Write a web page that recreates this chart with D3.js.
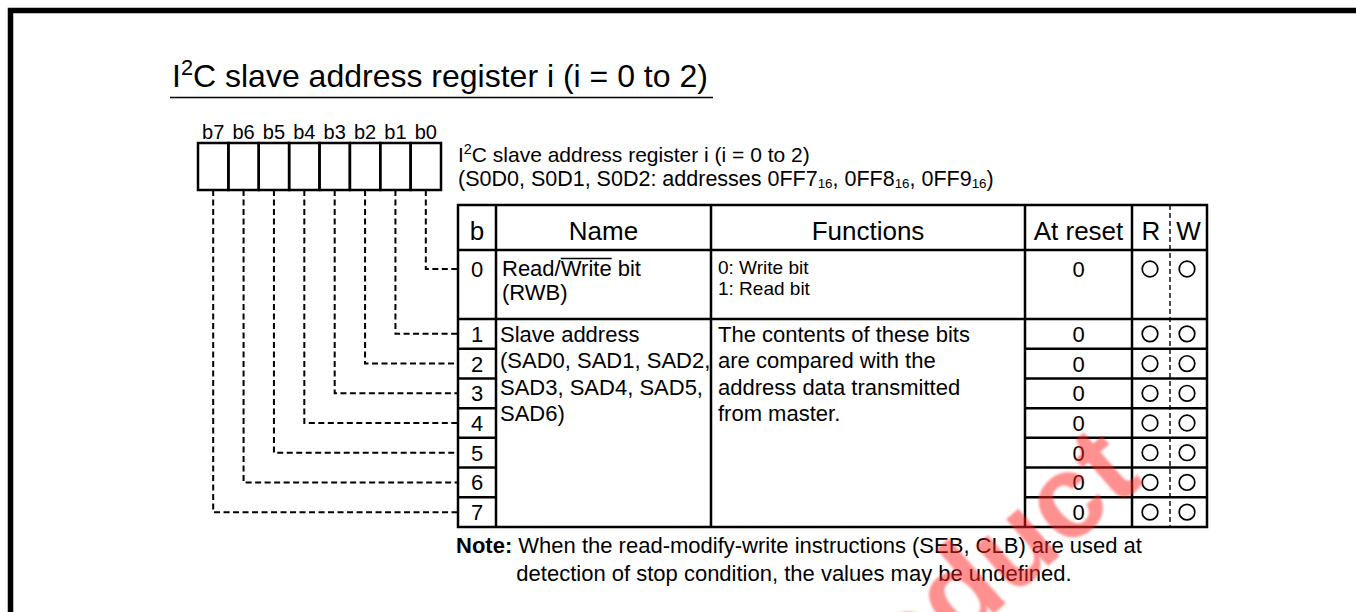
<!DOCTYPE html>
<html><head><meta charset="utf-8">
<script src="https://cdn.jsdelivr.net/npm/d3@7"></script>
<style>
html,body{margin:0;padding:0;background:#fff;}
svg{display:block;}
text{font-family:"Liberation Sans",Arial,Helvetica,sans-serif;fill:#000;}
</style>
</head><body>
<svg id="c" width="1356" height="612"></svg>
<script>
// ---------- data ----------
const titleSegs = [["I",""],["2","sup"],["C slave address register i (i = 0 to 2)",""]];
const bitLabels = ["b7","b6","b5","b4","b3","b2","b1","b0"];
const regTitleSegs = [["I",""],["2","sup"],["C slave address register i (i = 0 to 2)",""]];
const regAddrSegs = [["(S0D0, S0D1, S0D2: addresses 0FF7",""],["16","sub"],[", 0FF8",""],["16","sub"],[", 0FF9",""],["16","sub"],[")",""]];
const headers = ["b","Name","Functions","At reset","R","W"];
const bitNumbers = [0,1,2,3,4,5,6,7];
const atReset = ["0","0","0","0","0","0","0","0"];
const readable = [true,true,true,true,true,true,true,true];
const writable = [true,true,true,true,true,true,true,true];
const name0Lines = ["Read/Write bit","(RWB)"];
const func0Lines = ["0: Write bit","1: Read bit"];
const name1Lines = ["Slave address","(SAD0, SAD1, SAD2,","SAD3, SAD4, SAD5,","SAD6)"];
const func1Lines = ["The contents of these bits","are compared with the","address data transmitted","from master."];
const noteLabel = "Note:";
const noteLines = ["When the read-modify-write instructions (SEB, CLB) are used at","detection of stop condition, the values may be undefined."];
const watermark = "Product";

// ---------- layout ----------
const svg = d3.select("#c");
const FONT = 22;

svg.append("defs").append("filter").attr("id","soft")
  .append("feGaussianBlur").attr("stdDeviation",1.2);

function segText(sel, segs, size){
  segs.forEach((s,i)=>{
    const prev = i>0 ? segs[i-1][1] : "";
    const ts = sel.append("tspan").text(s[0]);
    let dy = 0;
    if (prev==="sup") dy += size*0.36;
    if (prev==="sub") dy -= size*0.1;
    if (s[1]==="sup"){ dy -= size*0.36; ts.attr("font-size", size*0.68); }
    if (s[1]==="sub"){ dy += size*0.1; ts.attr("font-size", size*0.62); }
    if (dy) ts.attr("dy", dy);
  });
}

// frame
svg.append("path").attr("d","M10.5,612 V10.5 H1356").attr("fill","none")
  .attr("stroke","#000").attr("stroke-width",5.5);

// title
const tt = svg.append("text").attr("x",172).attr("y",87).attr("font-size",32);
segText(tt, titleSegs, 32);
svg.append("line").attr("x1",170).attr("x2",713).attr("y1",97.5).attr("y2",97.5)
  .attr("stroke","#000").attr("stroke-width",1.6);

// register boxes
const xBit = d3.scaleBand().domain(bitLabels).range([198, 441]);
const bw = xBit.bandwidth();
const boxTop = 143, boxBot = 190;
svg.append("g").selectAll("rect").data(bitLabels).join("rect")
  .attr("x", d=>xBit(d)).attr("y", boxTop).attr("width", bw).attr("height", boxBot-boxTop)
  .attr("fill","none").attr("stroke","#000").attr("stroke-width",2.5);
svg.append("g").selectAll("text").data(bitLabels).join("text")
  .attr("x", d=>xBit(d)+bw/2).attr("y",139).attr("text-anchor","middle")
  .attr("font-size",20).text(d=>d);

// register description
const r1 = svg.append("text").attr("x",458).attr("y",162).attr("font-size",21);
segText(r1, regTitleSegs, 21);
const r2 = svg.append("text").attr("x",458).attr("y",186).attr("font-size",21.5);
segText(r2, regAddrSegs, 21.5);

// table geometry
const cols = [458, 496, 711, 1025, 1132, 1170, 1207];
const tTop = 205, hBot = 250, r0Bot = 319, tBot = 527;
const yRow = d3.scaleLinear().domain([1, 8]).range([r0Bot, tBot]); // row n spans yRow(n)..yRow(n+1)
const rowY = n => n===0 ? 269 : yRow(n+0.5);

const T = svg.append("g").attr("stroke","#000").attr("stroke-width",2.5).attr("fill","none");
T.append("rect").attr("x",cols[0]).attr("y",tTop).attr("width",cols[6]-cols[0]).attr("height",tBot-tTop);
[hBot, r0Bot].forEach(y=>T.append("line").attr("x1",cols[0]).attr("x2",cols[6]).attr("y1",y).attr("y2",y));
[1,2,3,4].forEach(i=>T.append("line").attr("x1",cols[i]).attr("x2",cols[i]).attr("y1",tTop).attr("y2",tBot));
T.selectAll("line.rb").data(bitNumbers.filter(n=>n>=1&&n<7)).join("line").attr("class","rb")
  .attr("x1",cols[0]).attr("x2",cols[1]).attr("y1",n=>yRow(n+1)).attr("y2",n=>yRow(n+1));
T.selectAll("line.rr").data(bitNumbers.filter(n=>n>=1&&n<7)).join("line").attr("class","rr")
  .attr("x1",cols[3]).attr("x2",cols[6]).attr("y1",n=>yRow(n+1)).attr("y2",n=>yRow(n+1));
svg.append("line").attr("x1",cols[5]).attr("x2",cols[5]).attr("y1",tTop).attr("y2",tBot)
  .attr("stroke","#000").attr("stroke-width",1.4).attr("stroke-dasharray","5,3");

// headers
const hx = [ (cols[0]+cols[1])/2, (cols[1]+cols[2])/2, (cols[2]+cols[3])/2, (cols[3]+cols[4])/2, (cols[4]+cols[5])/2, (cols[5]+cols[6])/2 ];
svg.append("g").selectAll("text").data(headers).join("text")
  .attr("x",(d,i)=>hx[i]).attr("y",240).attr("text-anchor","middle").attr("font-size",26).text(d=>d);

// bit numbers, reset values, R/W circles
svg.append("g").selectAll("text").data(bitNumbers).join("text")
  .attr("x",hx[0]).attr("y",n=>rowY(n)+8).attr("text-anchor","middle").attr("font-size",FONT).text(n=>n);
svg.append("g").selectAll("text").data(bitNumbers).join("text")
  .attr("x",hx[3]).attr("y",n=>rowY(n)+8).attr("text-anchor","middle").attr("font-size",FONT).text(n=>atReset[n]);
svg.append("g").selectAll("circle").data(bitNumbers.filter(n=>readable[n])).join("circle")
  .attr("cx",1150).attr("cy",n=>rowY(n)).attr("r",7.8).attr("fill","none").attr("stroke","#000").attr("stroke-width",1.7);
svg.append("g").selectAll("circle").data(bitNumbers.filter(n=>writable[n])).join("circle")
  .attr("cx",1187).attr("cy",n=>rowY(n)).attr("r",7.8).attr("fill","none").attr("stroke","#000").attr("stroke-width",1.7);

// row 0 text
const n0 = svg.append("g").attr("font-size",FONT);
n0.selectAll("text").data(name0Lines).join("text").attr("x",502).attr("y",(d,i)=>276+i*24).text(d=>d);
// overline on "Write"
(function(){
  const t = n0.select("text").node();
  const s = name0Lines[0];
  const a = s.indexOf("Write");
  const x0 = t.getSubStringLength(0,a), w = t.getSubStringLength(a,5);
  svg.append("line").attr("x1",502+x0).attr("x2",502+x0+w).attr("y1",258.5).attr("y2",258.5)
    .attr("stroke","#000").attr("stroke-width",1.3);
})();
svg.append("g").attr("font-size",19).selectAll("text").data(func0Lines).join("text")
  .attr("x",718).attr("y",(d,i)=>274+i*21).text(d=>d);

// rows 1-7 merged text
svg.append("g").attr("font-size",FONT).selectAll("text").data(name1Lines).join("text")
  .attr("x",500).attr("y",(d,i)=>rowY(1)+8+i*26.5).text(d=>d);
svg.append("g").attr("font-size",FONT).selectAll("text").data(func1Lines).join("text")
  .attr("x",718).attr("y",(d,i)=>rowY(1)+8+i*26.5).text(d=>d);

// dashed leader lines
const bitX = n => xBit("b"+n) + bw/2;
svg.append("g").selectAll("path").data(bitNumbers).join("path")
  .attr("d", n=>`M${bitX(n)},${boxBot} V${rowY(n)} H${cols[0]}`)
  .attr("fill","none").attr("stroke","#000").attr("stroke-width",2).attr("stroke-dasharray","6,3.5");

// note
const nt = svg.append("text").attr("x",456).attr("y",553).attr("font-size",FONT);
nt.append("tspan").attr("font-weight","bold").text(noteLabel);
nt.append("tspan").text(" "+noteLines[0]);
const noteIndent = 456 + nt.node().getSubStringLength(0, noteLabel.length+1);
svg.append("text").attr("x",noteIndent-2).attr("y",581).attr("font-size",FONT).text(noteLines[1]);

// watermark
svg.append("g").attr("transform","translate(1145,482) rotate(-41)")
  .append("text").attr("text-anchor","end").attr("font-size",118).attr("font-weight","bold")
  .style("fill","#ff2626").attr("fill-opacity",0.5).attr("filter","url(#soft)").text(watermark);
</script>
</body></html>
